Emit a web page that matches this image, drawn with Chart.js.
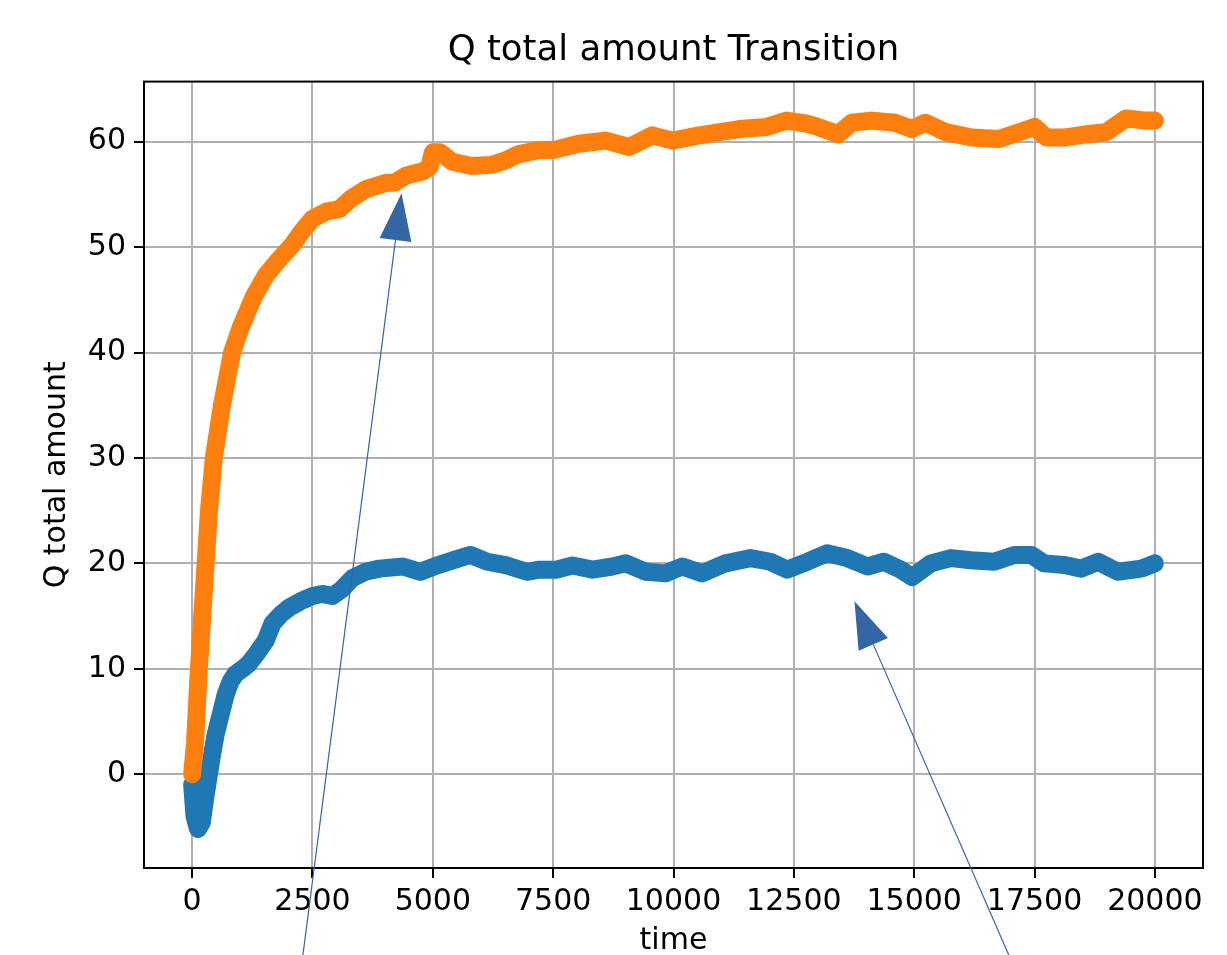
<!DOCTYPE html>
<html>
<head>
<meta charset="utf-8">
<script src="https://cdn.jsdelivr.net/npm/chart.js@4.4.1/dist/chart.umd.min.js"></script>
<style>
  html, body { margin: 0; padding: 0; background: #fff; }
  #q-chart { display: block; }
</style>
</head>
<body>
<canvas id="q-chart" width="1227" height="955"></canvas>
<script>
"use strict";

////////  DATA ///////////
// orange series
const time_orange = [0, 60, 140, 210, 280, 350, 450, 620, 830, 1010, 1280, 1530, 1800, 2080, 2300, 2500,
  2800, 3060, 3300, 3610, 4030, 4200, 4450, 4800, 4930, 5000, 5150, 5400, 5800, 6220, 6500, 6770,
  7190, 7500, 8030, 8590, 9080, 9560, 9980, 10540, 10960, 11370, 11930, 12350, 12770, 13000, 13420,
  13700, 14115, 14600, 14950, 15230, 15650, 16200, 16760, 17180, 17500, 17740, 18150, 18570, 18990,
  19400, 19830, 20000];
const q_orange = [0, 3, 10, 15, 20, 25, 30, 35, 40, 42.4, 45.3, 47.3, 48.8, 50.2, 51.6, 52.7,
  53.4, 53.6, 54.6, 55.5, 56.1, 56.1, 56.8, 57.2, 57.6, 59.0, 59.0, 58.1, 57.7, 57.8, 58.2, 58.8,
  59.2, 59.2, 59.8, 60.1, 59.5, 60.6, 60.1, 60.6, 60.9, 61.2, 61.4, 62.0, 61.7, 61.4, 60.7,
  61.8, 62.0, 61.8, 61.2, 61.8, 60.9, 60.4, 60.25, 60.9, 61.4, 60.4, 60.4, 60.7, 60.9,
  62.2, 62.0, 62.0];

// blue series
const time_blue = [0, 50, 120, 200, 280, 350, 420, 490, 600, 700, 800, 900, 1050, 1180, 1350, 1530,
  1670, 1850, 2015, 2250, 2500, 2700, 2910, 3100, 3330, 3600, 3890, 4380, 4740, 5020, 5430, 5780,
  6130, 6540, 6950, 7220, 7560, 7900, 8320, 8730, 9010, 9420, 9830, 10180, 10600, 11080, 11600,
  12010, 12360, 12780, 13190, 13610, 14030, 14370, 14720, 14960, 15350, 15760, 16180, 16660, 17080,
  17430, 17700, 18120, 18470, 18820, 19230, 19720, 20000];
const q_blue = [-1.0, -4.0, -5.2, -4.6, -2.0, 0, 2.0, 3.8, 5.8, 7.6, 8.8, 9.5, 10.0, 10.5, 11.5, 12.7,
  14.3, 15.2, 15.8, 16.4, 16.9, 17.1, 16.9, 17.5, 18.6, 19.2, 19.5, 19.7, 19.2, 19.7, 20.3, 20.8,
  20.15, 19.8, 19.2, 19.4, 19.4, 19.8, 19.4, 19.7, 20.0, 19.2, 19.05, 19.7, 19.05, 20.0, 20.5,
  20.15, 19.4, 20.15, 20.95, 20.5, 19.7, 20.15, 19.4, 18.7, 20.0, 20.5, 20.3, 20.15, 20.8,
  20.8, 20.0, 19.85, 19.5, 20.15, 19.2, 19.5, 20.0];

// axis ranges / ticks
const x_range = [-1000, 21000];
const y_range = [-8.9, 65.7];
const x_ticks = [0, 2500, 5000, 7500, 10000, 12500, 15000, 17500, 20000];
const y_ticks = [0, 10, 20, 30, 40, 50, 60];

// annotation arrows, in data units: [time, value]
const arrow_tips = [[4350, 55.1], [13760, 16.4]];
const arrow_tails = [[2300, -17.2], [16970, -17.2]];

const font_family = '"DejaVu Sans", sans-serif';

//////// HELPERS /////////
function to_points(xs, ys) {
  return xs.map((x, i) => ({x: x, y: ys[i]}));
}

function set_ticks(values) {
  return function(scale) {
    scale.ticks = values.map(v => ({value: v}));
  };
}

// frame round the plot, black tick marks, and the two arrows drawn on top
const frame_and_arrows = {
  id: 'frame_and_arrows',
  afterDatasetsDraw(chart) {
    const {ctx, chartArea: a} = chart;
    const xs = chart.scales.x, ys = chart.scales.y;
    ctx.save();
    ctx.strokeStyle = '#000';
    ctx.lineWidth = 2;
    ctx.strokeRect(a.left, a.top, a.right - a.left, a.bottom - a.top);
    ctx.beginPath();
    x_ticks.forEach(v => {
      const px = Math.round(xs.getPixelForValue(v));
      ctx.moveTo(px, a.bottom);
      ctx.lineTo(px, a.bottom + 10);
    });
    y_ticks.forEach(v => {
      const py = Math.round(ys.getPixelForValue(v));
      ctx.moveTo(a.left, py);
      ctx.lineTo(a.left - 10, py);
    });
    ctx.stroke();
    ctx.restore();
  },
  afterDraw(chart) {
    const {ctx} = chart;
    const xs = chart.scales.x, ys = chart.scales.y;
    ctx.save();
    ctx.fillStyle = '#3465a4';
    ctx.strokeStyle = '#3465a4';
    ctx.lineWidth = 1.2;
    for (let i = 0; i < arrow_tips.length; i++) {
      const tx = xs.getPixelForValue(arrow_tips[i][0]);
      const ty = ys.getPixelForValue(arrow_tips[i][1]);
      const bx = xs.getPixelForValue(arrow_tails[i][0]);
      const by = ys.getPixelForValue(arrow_tails[i][1]);
      const len = Math.hypot(tx - bx, ty - by);
      const dx = (tx - bx) / len, dy = (ty - by) / len;
      const head_len = 47, head_half = 16;
      const cx = tx - dx * head_len, cy = ty - dy * head_len;
      // shaft
      ctx.beginPath();
      ctx.moveTo(bx, by);
      ctx.lineTo(cx, cy);
      ctx.stroke();
      // head
      ctx.beginPath();
      ctx.moveTo(tx, ty);
      ctx.lineTo(cx - dy * head_half, cy + dx * head_half);
      ctx.lineTo(cx + dy * head_half, cy - dx * head_half);
      ctx.closePath();
      ctx.fill();
    }
    ctx.restore();
  }
};

//////// CHART /////////
const q_chart_data = {
  datasets: [
    {
      label: 'orange',
      data: to_points(time_orange, q_orange),
      borderColor: '#ff7f0e',
      borderWidth: 18,
      borderCapStyle: 'round',
      borderJoinStyle: 'round',
      pointRadius: 0,
      tension: 0,
      fill: false,
      order: 0
    },
    {
      label: 'blue',
      data: to_points(time_blue, q_blue),
      borderColor: '#1f77b4',
      borderWidth: 18,
      borderCapStyle: 'round',
      borderJoinStyle: 'round',
      pointRadius: 0,
      tension: 0,
      fill: false,
      order: 1
    }
  ]
};

const tick_font = {family: font_family, size: 30};

const q_chart_config = {
  type: 'line',
  data: q_chart_data,
  options: {
    responsive: false,
    animation: false,
    devicePixelRatio: 1,
    layout: {
      padding: {left: 0, right: 24, top: 0, bottom: 0}
    },
    scales: {
      x: {
        type: 'linear',
        min: x_range[0],
        max: x_range[1],
        afterBuildTicks: set_ticks(x_ticks),
        afterFit: scale => { scale.height = 87; },
        ticks: {
          autoSkip: false,
          maxRotation: 0,
          minRotation: 0,
          padding: 6,
          color: '#000',
          font: tick_font,
          callback: v => String(v)
        },
        grid: {
          color: '#b0b0b0',
          lineWidth: 2,
          drawTicks: true,
          tickColor: 'rgba(0,0,0,0)',
          tickLength: 10
        },
        border: { display: false },
        title: {
          display: true,
          text: 'time',
          color: '#000',
          font: tick_font,
          padding: {top: 0, bottom: -4}
        }
      },
      y: {
        type: 'linear',
        min: y_range[0],
        max: y_range[1],
        afterBuildTicks: set_ticks(y_ticks),
        afterFit: scale => { scale.width = 144; },
        ticks: {
          autoSkip: false,
          padding: 8,
          color: '#000',
          font: tick_font,
          callback: v => String(v)
        },
        grid: {
          color: '#b0b0b0',
          lineWidth: 2,
          drawTicks: true,
          tickColor: 'rgba(0,0,0,0)',
          tickLength: 10
        },
        border: { display: false },
        title: {
          display: true,
          text: 'Q total amount',
          color: '#000',
          font: tick_font,
          padding: {top: 39, bottom: 0}
        }
      }
    },
    plugins: {
      legend: { display: false },
      tooltip: { enabled: false },
      title: {
        display: true,
        text: 'Q total amount Transition',
        color: '#000',
        fullSize: false,
        font: {family: font_family, size: 35.5, weight: 'normal'},
        padding: {top: 29, bottom: 10}
      }
    }
  },
  plugins: [frame_and_arrows]
};

const q_chart = new Chart(document.getElementById('q-chart').getContext('2d'), q_chart_config);
</script>
</body>
</html>
